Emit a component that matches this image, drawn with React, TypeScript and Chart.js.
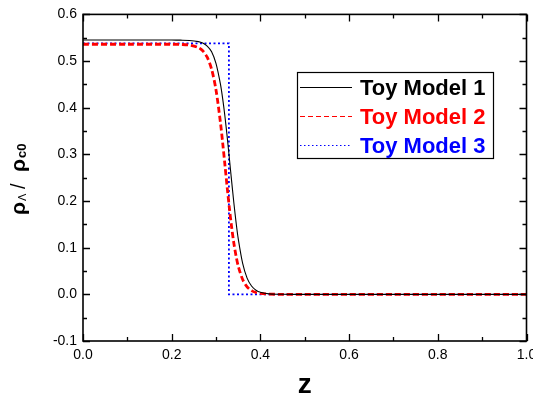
import React, { useEffect, useRef } from "react";
import { Chart, registerables } from "chart.js";

Chart.register(...registerables);

// ---- data ----
const zGrid = [
  0, 0.1, 0.2, 0.22, 0.24, 0.26, 0.27, 0.28, 0.29, 0.3, 0.31, 0.315, 0.32, 0.325, 0.33, 0.335,
  0.34, 0.345, 0.35, 0.36, 0.37, 0.38, 0.39, 0.4, 0.42, 0.45, 0.5, 0.6, 0.7, 0.8, 0.9, 1.0,
];
const model1 = [
  0.545, 0.545, 0.545, 0.5448, 0.5442, 0.5417, 0.5385, 0.532, 0.52, 0.4945, 0.45, 0.4189, 0.3816,
  0.3386, 0.2917, 0.2437, 0.1975, 0.1554, 0.1193, 0.0662, 0.0348, 0.0178, 0.0089, 0.0044, 0.0011,
  0.0001, 0, 0, 0, 0, 0, 0,
];
const model2 = [
  0.536, 0.536, 0.536, 0.5356, 0.5343, 0.529, 0.522, 0.5083, 0.4825, 0.4374, 0.3675, 0.3242,
  0.2775, 0.2302, 0.1853, 0.1449, 0.1106, 0.0826, 0.0607, 0.0317, 0.0161, 0.0081, 0.004, 0.002,
  0.0005, 0, 0, 0, 0, 0, 0, 0,
];
const model3Z = [0, 0.329, 0.329, 1.0];
const model3 = [0.538, 0.538, 0, 0];

const seriesNames = ["Toy Model 1", "Toy Model 2", "Toy Model 3"];
const seriesColors = ["#000000", "#ff0000", "#0000ff"];

const xMajorTicks = [0, 0.2, 0.4, 0.6, 0.8, 1.0];
const xMinorTicks = [0.1, 0.3, 0.5, 0.7, 0.9];
const yMajorTicks = [-0.1, 0, 0.1, 0.2, 0.3, 0.4, 0.5, 0.6];
const yMinorTicks = [-0.05, 0.05, 0.15, 0.25, 0.35, 0.45, 0.55];

const FONT = '"Liberation Sans", Arial, sans-serif';

const fmt = (v: any) => {
  const n = Number(v);
  return (Math.abs(n) < 1e-9 ? 0 : n).toFixed(1);
};

const decorPlugin = {
  id: "decor",
  afterDraw(chart: any) {
    const { ctx, chartArea: a, scales } = chart;
    const xs = scales.x;
    const ys = scales.y;
    ctx.save();
    // frame
    ctx.strokeStyle = "#000";
    ctx.lineWidth = 1.6;
    ctx.strokeRect(a.left, a.top, a.right - a.left, a.bottom - a.top);
    ctx.lineWidth = 1.3;
    const tick = (vals: number[], len: number) => {
      for (const v of vals) {
        const px = Math.round(xs.getPixelForValue(v)) + 0.5;
        ctx.beginPath();
        ctx.moveTo(px, a.bottom);
        ctx.lineTo(px, a.bottom - len);
        ctx.moveTo(px, a.top);
        ctx.lineTo(px, a.top + len);
        ctx.stroke();
      }
    };
    const ytick = (vals: number[], len: number) => {
      for (const v of vals) {
        const py = Math.round(ys.getPixelForValue(v)) + 0.5;
        ctx.beginPath();
        ctx.moveTo(a.left, py);
        ctx.lineTo(a.left + len, py);
        ctx.moveTo(a.right, py);
        ctx.lineTo(a.right - len, py);
        ctx.stroke();
      }
    };
    tick(xMajorTicks, 7);
    tick(xMinorTicks, 4);
    ytick(yMajorTicks, 7);
    ytick(yMinorTicks, 4);

    // legend
    const lx = 297.5, ly = 72.5, lw = 196, lh = 86;
    ctx.fillStyle = "#fff";
    ctx.fillRect(lx, ly, lw, lh);
    ctx.strokeStyle = "#000";
    ctx.lineWidth = 1.2;
    ctx.strokeRect(lx, ly, lw, lh);
    const rows = [87.5, 116.5, 145.5];
    const dashes = [[], [5, 3], [1.5, 2.5]];
    for (let i = 0; i < 3; i++) {
      ctx.strokeStyle = seriesColors[i];
      ctx.lineWidth = 1;
      ctx.setLineDash(dashes[i]);
      ctx.beginPath();
      ctx.moveTo(300, rows[i]);
      ctx.lineTo(352, rows[i]);
      ctx.stroke();
      ctx.setLineDash([]);
      ctx.fillStyle = seriesColors[i];
      ctx.font = `bold 22px ${FONT}`;
      ctx.textAlign = "left";
      ctx.textBaseline = "middle";
      ctx.fillText(seriesNames[i], 360, rows[i] + 1);
    }

    // x title
    ctx.fillStyle = "#000";
    ctx.font = `bold 28px ${FONT}`;
    ctx.textAlign = "center";
    ctx.textBaseline = "middle";
    ctx.fillText("z", (a.left + a.right) / 2, 385);

    // y title (rotated)
    ctx.translate(24.5, 215);
    ctx.rotate(-Math.PI / 2);
    ctx.textAlign = "left";
    ctx.textBaseline = "alphabetic";
    const parts: [string, string, number, number][] = [
      ["ρ", `bold 21px ${FONT}`, 0, 0],
      ["Λ", `11px ${FONT}`, 14, 1],
      ["/", `20px ${FONT}`, 26, 0],
      ["ρ", `bold 21px ${FONT}`, 43, 0],
      ["c0", `bold 13px ${FONT}`, 57, 1],
    ];
    for (const [t, f, off, dy] of parts) {
      ctx.font = f;
      ctx.fillText(t, off, dy);
    }
    ctx.restore();
  },
};

export default function App() {
  const ref = useRef<HTMLCanvasElement | null>(null);
  useEffect(() => {
    if (!ref.current) return;
    const chart = new Chart(ref.current, {
      type: "line",
      data: {
        datasets: [
          {
            label: seriesNames[0],
            data: zGrid.map((z, i) => ({ x: z, y: model1[i] })),
            borderColor: seriesColors[0],
            borderWidth: 1.1,
            pointRadius: 0,
            tension: 0.3,
          },
          {
            label: seriesNames[1],
            data: zGrid.map((z, i) => ({ x: z, y: model2[i] })),
            borderColor: seriesColors[1],
            borderWidth: 2.8,
            borderDash: [6, 3],
            pointRadius: 0,
            tension: 0.3,
          },
          {
            label: seriesNames[2],
            data: model3Z.map((z, i) => ({ x: z, y: model3[i] })),
            borderColor: seriesColors[2],
            borderWidth: 1.8,
            borderDash: [2, 2.5],
            pointRadius: 0,
            tension: 0,
          },
        ],
      },
      options: {
        responsive: false,
        animation: false,
        events: [],
        layout: { padding: { left: 0, right: 33.5, top: 10, bottom: 0 } },
        plugins: { legend: { display: false }, tooltip: { enabled: false } },
        scales: {
          x: {
            type: "linear",
            min: 0,
            max: 1,
            grid: { display: false, drawTicks: false },
            border: { display: false },
            ticks: {
              stepSize: 0.2,
              padding: 6,
              color: "#000",
              font: { family: FONT, size: 14 },
              maxRotation: 0,
              autoSkip: false,
              callback: fmt,
            },
            afterFit: (s: any) => {
              s.height = 59;
            },
          },
          y: {
            type: "linear",
            min: -0.1,
            max: 0.6,
            grid: { display: false, drawTicks: false },
            border: { display: false },
            ticks: {
              stepSize: 0.1,
              padding: 6,
              color: "#000",
              font: { family: FONT, size: 14 },
              callback: fmt,
            },
            afterFit: (s: any) => {
              s.width = 83;
            },
          },
        },
      },
      plugins: [decorPlugin],
    });
    return () => chart.destroy();
  }, []);

  return (
    <div
      style={{
        position: "fixed",
        left: 0,
        top: 0,
        width: 533,
        height: 400,
        overflow: "hidden",
        background: "#fff",
      }}
    >
      <canvas ref={ref} width={560} height={400} style={{ width: 560, height: 400, display: "block" }} />
    </div>
  );
}
